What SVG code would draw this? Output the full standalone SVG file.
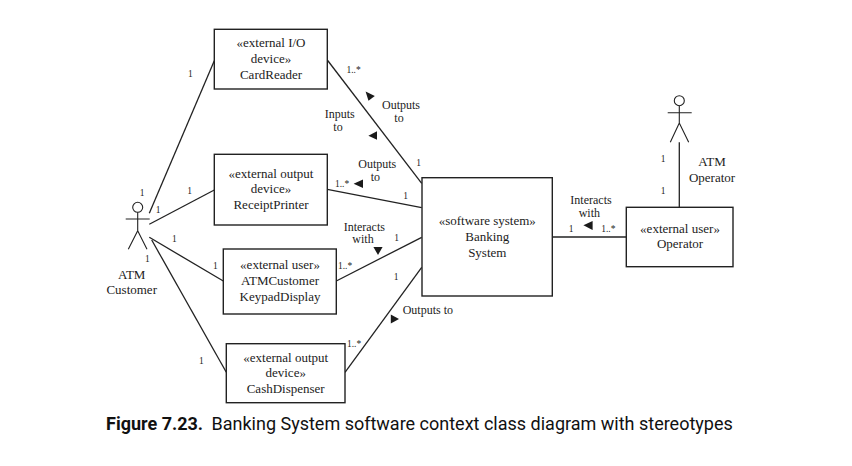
<svg xmlns="http://www.w3.org/2000/svg" width="852" height="466" viewBox="0 0 852 466">
<style>
.box{fill:#fff;stroke:#222;stroke-width:1.4}
.ln{fill:none;stroke:#222;stroke-width:1.3}
.actor{fill:none;stroke:#222;stroke-width:1.1}
.head{fill:none;stroke:#222;stroke-width:1.1}
.ah{fill:#1a1a1a;stroke:none}
text{font-family:"Liberation Serif","Times New Roman",serif;fill:#1c1c1c;text-anchor:middle}
.n{font-size:13px}
.l{font-size:12px}
.m{font-size:9.5px}
.cap{font-family:Roboto,"Liberation Sans",Arial,sans-serif;font-size:18px;text-anchor:start;fill:#111}
</style>
<rect width="852" height="466" fill="#fff"/>
<g id="connectors">
<path class="ln" d="M149.3 213.3L214.3 60.7"/>
<path class="ln" d="M149.3 224.3L214.3 190"/>
<path class="ln" d="M149.3 237.3L223.3 281"/>
<path class="ln" d="M151.7 240L226.3 372.3"/>
<path class="ln" d="M327.3 60L421.7 183.3"/>
<path class="ln" d="M327.3 189.3L421.7 207.7"/>
<path class="ln" d="M336.3 281L421.7 237.3"/>
<path class="ln" d="M345 372.3L421.7 267.3"/>
<path class="ln" d="M552.3 237H626.3"/>
<path class="ln" d="M679.3 142.3V207.3"/>
<path class="ah" d="M365.6 91.6L374.8 96L368.5 100.8Z"/>
<path class="ah" d="M377 131.2V139.8L368.4 135.7Z"/>
<path class="ah" d="M363 179.6V188L353.6 183.7Z"/>
<path class="ah" d="M373.4 247H382.6L378 255Z"/>
<path class="ah" d="M390.8 314.4L399 319L390.8 323.6Z"/>
<path class="ah" d="M592.6 221V230L583.4 225.3Z"/>
<g class="m">
<text x="190.3" y="77">1</text>
<text x="353.5" y="73">1..*</text>
<text x="418.7" y="166">1</text>
<text x="405.7" y="199">1</text>
<text x="342" y="186.7">1..*</text>
<text x="142" y="195.7">1</text>
<text x="158" y="212.7">1</text>
<text x="189.7" y="194">1</text>
<text x="174.3" y="241.7">1</text>
<text x="147.3" y="262">1</text>
<text x="215.3" y="269">1</text>
<text x="345" y="269.3">1..*</text>
<text x="396.7" y="241">1</text>
<text x="396" y="279.7">1</text>
<text x="354" y="346.7">1..*</text>
<text x="201.3" y="363.7">1</text>
<text x="571" y="232">1</text>
<text x="608.3" y="232">1..*</text>
<text x="663" y="161.7">1</text>
<text x="663" y="193.7">1</text>
</g>
<g class="l">
<text x="401" y="109.3">Outputs</text>
<text x="399" y="122">to</text>
<text x="339.7" y="118.3">Inputs</text>
<text x="338" y="131">to</text>
<text x="377.3" y="168.3">Outputs</text>
<text x="375.3" y="181">to</text>
<text x="364.3" y="230.7">Interacts</text>
<text x="363" y="243.3">with</text>
<text x="402.7" y="314.3" style="text-anchor:start">Outputs to</text>
<text x="591" y="204">Interacts</text>
<text x="589.3" y="216.7">with</text>
</g>
</g>
<g id="atm-customer-actor">
<circle class="head" cx="137.7" cy="207.3" r="5"/>
<path class="actor" d="M125.7 219H149.7M137.7 212.3V230.7M128.3 249.3L137.7 230.7L147 249.3"/>
<text class="n" x="131.7" y="278.7">ATM</text>
<text class="n" x="131.7" y="294">Customer</text>
</g>
<g id="atm-operator-actor">
<circle class="head" cx="679.3" cy="100.7" r="5"/>
<path class="actor" d="M667.7 112.7H691.7M679.3 105.7V123M670.3 142.3L679.3 123L688.7 142.3"/>
<text class="n" x="712" y="166">ATM</text>
<text class="n" x="712" y="181.7">Operator</text>
</g>
<g id="card-reader">
<rect class="box" x="214.3" y="29.3" width="113" height="59.7"/>
<text class="n" x="271" y="47.3">«external I/O</text>
<text class="n" x="271" y="63">device»</text>
<text class="n" x="271" y="79">CardReader</text>
</g>
<g id="receipt-printer">
<rect class="box" x="214.3" y="154.3" width="113" height="70.7"/>
<text class="n" x="271" y="178">«external output</text>
<text class="n" x="271" y="193.3">device»</text>
<text class="n" x="271" y="209">ReceiptPrinter</text>
</g>
<g id="atm-customer-keypad">
<rect class="box" x="223.3" y="249" width="113" height="65"/>
<text class="n" x="280" y="269.3">«external user»</text>
<text class="n" x="280" y="285">ATMCustomer</text>
<text class="n" x="280" y="300.7">KeypadDisplay</text>
</g>
<g id="cash-dispenser">
<rect class="box" x="226.3" y="343.7" width="118.7" height="59"/>
<text class="n" x="285.7" y="361.7">«external output</text>
<text class="n" x="285.7" y="376.7">device»</text>
<text class="n" x="285.7" y="392.7">CashDispenser</text>
</g>
<g id="banking-system">
<rect class="box" x="422" y="177.7" width="130.3" height="118.3"/>
<text class="n" x="487.3" y="225">«software system»</text>
<text class="n" x="487.3" y="240.7">Banking</text>
<text class="n" x="487.3" y="256.7">System</text>
</g>
<g id="operator">
<rect class="box" x="626.3" y="207.3" width="106.7" height="59.4"/>
<text class="n" x="680" y="232.7">«external user»</text>
<text class="n" x="680" y="248.3">Operator</text>
</g>
<text class="cap" y="430"><tspan x="106" font-weight="700">Figure 7.23.</tspan><tspan x="211.5">Banking System software context class diagram with stereotypes</tspan></text>
</svg>
